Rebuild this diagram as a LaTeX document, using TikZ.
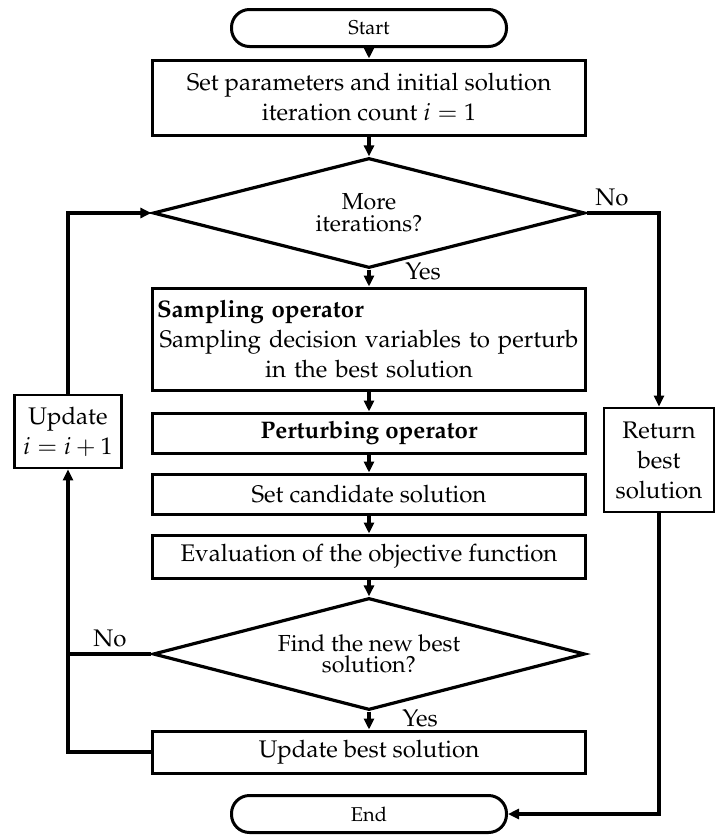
\documentclass[tikz,border=0pt]{standalone}
\usepackage[T1]{fontenc}
\usepackage{mathpazo}
\usetikzlibrary{shapes.geometric,arrows.meta}
\newcommand{\flowmain}{\fontsize{12}{15}\selectfont}
\newcommand{\flowdec}{\fontsize{11.6}{10.8}\selectfont}
\newcommand{\flowterm}{\fontsize{10}{12}\selectfont}
\begin{document}
\begin{tikzpicture}[x=0.5pt,y=-0.5pt,
  box/.style={draw,line width=1.5pt,minimum width=216.5pt,inner sep=2pt,align=center,font=\flowmain},
  side/.style={draw,line width=1.4pt,inner sep=1pt,align=center,font=\flowmain},
  term/.style={draw,line width=1.5pt,rounded corners=9pt,minimum width=137.5pt,minimum height=18.5pt,inner sep=1pt,font=\flowterm},
  decision/.style={draw,shape=diamond,line width=1.6pt,aspect=3.9,minimum width=216pt,minimum height=55pt,inner sep=0pt,align=center,font=\flowdec},
  lbl/.style={inner sep=0pt,font=\flowmain},
  flow/.style={line width=1.8pt,-{Triangle[length=5.5pt,width=5pt]}},
  plain/.style={line width=1.8pt}
]
\path[fill=white] (0,0) rectangle (716,836);
\useasboundingbox (0,0) rectangle (716,836);

% main column
\node[term] (start) at (369,28) {Start};
\node[box,minimum height=37.5pt] (init) at (369,97.5) {Set parameters and initial solution\\ iteration count $i = 1$};
\node[decision] (more) at (369,213) {More\\ iterations?};
\node[box,minimum height=51pt,text width=212pt] (samp) at (369,339)
  {\textbf{Sampling operator}\hspace{0pt plus 1fill}\null\\ Sampling decision variables to perturb\\ in the best solution};
\node[box,minimum height=20pt] (pert) at (369,433) {\textbf{Perturbing operator}};
\node[box,minimum height=20pt] (cand) at (369,494) {Set candidate solution};
\node[box,minimum height=21.5pt] (eval) at (369,556.5) {Evaluation of the objective function};
\node[decision,minimum height=56pt] (find) at (369,654) {Find the new best\\ solution?};
\node[box,minimum height=21pt] (best) at (369,752) {Update best solution};
\node[term] (end) at (369,814) {End};

% side boxes
\node[side,minimum width=53.5pt,minimum height=36.5pt] (upd) at (68,431.5) {Update\\ $i = i + 1$};
\node[side,minimum width=55pt,minimum height=52pt] (ret) at (659,460) {Return\\ best\\ solution};

% branch labels
\node[lbl] (yes1) at (423,271) {Yes};
\node[lbl] (no1) at (612,197) {No};
\node[lbl] (no2) at (110,638) {No};
\node[lbl] (yes2) at (420,718) {Yes};

% connectors
\draw[flow] (start) -- (init);
\draw[flow] (init) -- (more);
\draw[flow] (more) -- (samp);
\draw[flow] (samp) -- (pert);
\draw[flow] (pert) -- (cand);
\draw[flow] (cand) -- (eval);
\draw[flow] (eval) -- (find);
\draw[flow] (find) -- (best);
\draw[flow] (more.east) -| (ret.north);
\draw[flow] (ret.south) |- (end.east);
\draw[flow] (best.west) -| (upd.south);
\draw[flow] (upd.north) |- (more.west);
\coordinate (nojoin) at (find.west -| upd.south);
\draw[plain] (find.west) -- (nojoin);
\end{tikzpicture}
\end{document}
